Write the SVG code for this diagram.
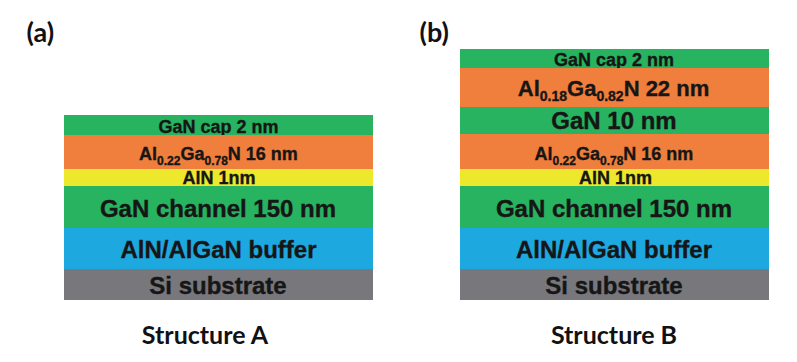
<svg xmlns="http://www.w3.org/2000/svg" width="797" height="362" viewBox="0 0 797 362">
<style>
.g{fill:#27B35F}.o{fill:#F07E3C}.y{fill:#EEE82C}.b{fill:#1EA8E0}.s{fill:#77777C}
.t{font-family:"Liberation Sans",Arial,sans-serif;font-weight:bold;fill:#161616;stroke:#161616;stroke-width:0.35;text-anchor:middle}
.sub{font-size:12px}
.cap{font-family:Lato,"Open Sans",sans-serif;font-weight:bold;fill:#111;text-anchor:middle}
.lbl{font-family:Lato,"Open Sans",sans-serif;font-weight:bold;fill:#111;font-size:27px}
</style>
<rect width="797" height="362" fill="#fff"/>
<text class="lbl" x="26.5" y="42">(a)</text>
<text class="lbl" x="419.5" y="42">(b)</text>
<g id="stackA">
<g id="a-cap"><rect class="g" x="64" y="115" width="309" height="20"/><text class="t" x="218.5" y="132.5" font-size="18">GaN cap 2 nm</text></g>
<g id="a-algan"><rect class="o" x="64" y="135" width="309" height="34"/><text class="t" x="218.5" y="160" font-size="18">Al<tspan class="sub" dy="5">0.22</tspan><tspan dy="-5">Ga</tspan><tspan class="sub" dy="5">0.78</tspan><tspan dy="-5">N 16 nm</tspan></text></g>
<g id="a-aln"><rect class="y" x="64" y="169" width="309" height="17"/><text class="t" x="219" y="184.3" font-size="18">AlN 1nm</text></g>
<g id="a-chan"><rect class="g" x="64" y="186" width="309" height="42"/><text class="t" x="218" y="217" font-size="24">GaN channel 150 nm</text></g>
<g id="a-buf"><rect class="b" x="64" y="228" width="309" height="41"/><text class="t" x="218.5" y="258" font-size="24">AlN/AlGaN buffer</text></g>
<g id="a-si"><rect class="s" x="64" y="269" width="309" height="31"/><text class="t" x="218" y="293.5" font-size="24">Si substrate</text></g>
</g>
<g id="stackB">
<g id="b-cap"><rect class="g" x="460" y="49" width="309" height="19"/><text class="t" x="614" y="65.5" font-size="18">GaN cap 2 nm</text></g>
<g id="b-algan1"><rect class="o" x="460" y="68" width="309" height="39"/><text class="t" x="613.5" y="95.7" font-size="22">Al<tspan font-size="14" dy="5">0.18</tspan><tspan dy="-5">Ga</tspan><tspan font-size="14" dy="5">0.82</tspan><tspan dy="-5">N 22 nm</tspan></text></g>
<g id="b-gan10"><rect class="g" x="460" y="107" width="309" height="27"/><text class="t" x="614" y="129.3" font-size="24">GaN 10 nm</text></g>
<g id="b-algan2"><rect class="o" x="460" y="134" width="309" height="35"/><text class="t" x="614" y="159.5" font-size="18">Al<tspan class="sub" dy="5">0.22</tspan><tspan dy="-5">Ga</tspan><tspan class="sub" dy="5">0.78</tspan><tspan dy="-5">N 16 nm</tspan></text></g>
<g id="b-aln"><rect class="y" x="460" y="169" width="309" height="17"/><text class="t" x="615.5" y="184.3" font-size="18">AlN 1nm</text></g>
<g id="b-chan"><rect class="g" x="460" y="186" width="309" height="42"/><text class="t" x="614" y="217" font-size="24">GaN channel 150 nm</text></g>
<g id="b-buf"><rect class="b" x="460" y="228" width="309" height="41"/><text class="t" x="614" y="258" font-size="24">AlN/AlGaN buffer</text></g>
<g id="b-si"><rect class="s" x="460" y="269" width="309" height="31"/><text class="t" x="614" y="293.5" font-size="24">Si substrate</text></g>
</g>
<g id="connectors"/>
<text class="cap" x="205" y="344" font-size="25">Structure A</text>
<text class="cap" x="614" y="344" font-size="25">Structure B</text>
</svg>
